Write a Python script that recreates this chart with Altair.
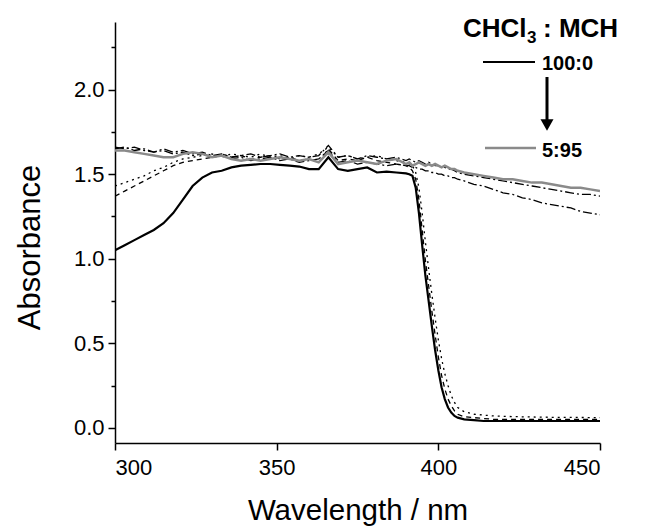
import altair as alt
import pandas as pd

wl = [300, 303, 306, 309, 312, 315, 318, 321, 324, 327, 330, 333, 336, 339, 342, 345,
      348, 351, 354, 357, 360, 363, 366, 369, 372, 375, 378, 381, 384, 387, 390,
      391, 392, 393, 394, 395, 396, 397, 398, 399, 400, 401, 402, 403, 404, 405, 406,
      408, 411, 414, 417, 420, 423, 426, 429, 432, 435, 438, 441, 444, 447, 450]

# 100:0 (solid black)
a_100_0 = [1.05, 1.08, 1.11, 1.14, 1.17, 1.21, 1.27, 1.35, 1.43, 1.48, 1.51, 1.52, 1.54, 1.55, 1.555, 1.56,
           1.56, 1.555, 1.55, 1.545, 1.53, 1.53, 1.60, 1.53, 1.52, 1.53, 1.54, 1.51, 1.515, 1.51, 1.505,
           1.50, 1.49, 1.42, 1.27, 1.08, 0.90, 0.75, 0.60, 0.46, 0.34, 0.24, 0.17, 0.12, 0.09, 0.07, 0.06,
           0.05, 0.045, 0.04, 0.04, 0.04, 0.04, 0.04, 0.04, 0.04, 0.04, 0.04, 0.04, 0.04, 0.04, 0.04]

# intermediate (short dash)
a_dash = [1.37, 1.40, 1.43, 1.46, 1.49, 1.52, 1.55, 1.57, 1.58, 1.59, 1.60, 1.62, 1.60, 1.61, 1.59, 1.60,
          1.61, 1.59, 1.60, 1.58, 1.59, 1.57, 1.65, 1.58, 1.59, 1.58, 1.60, 1.58, 1.57, 1.56, 1.55,
          1.54, 1.52, 1.47, 1.35, 1.17, 0.99, 0.84, 0.69, 0.55, 0.42, 0.31, 0.23, 0.17, 0.13, 0.10, 0.08,
          0.065, 0.06, 0.055, 0.05, 0.05, 0.05, 0.05, 0.05, 0.05, 0.05, 0.05, 0.05, 0.05, 0.05, 0.05]

# intermediate (dotted)
a_dot = [1.43, 1.45, 1.47, 1.49, 1.52, 1.54, 1.57, 1.59, 1.60, 1.61, 1.62, 1.60, 1.62, 1.61, 1.60, 1.62,
         1.60, 1.61, 1.59, 1.61, 1.60, 1.62, 1.66, 1.60, 1.61, 1.59, 1.60, 1.61, 1.59, 1.58, 1.57,
         1.56, 1.55, 1.51, 1.42, 1.27, 1.10, 0.94, 0.79, 0.65, 0.52, 0.41, 0.32, 0.25, 0.19, 0.15, 0.12,
         0.095, 0.08, 0.075, 0.07, 0.068, 0.066, 0.065, 0.064, 0.063, 0.062, 0.062, 0.061, 0.061, 0.06, 0.06]

# intermediate (dash-dot, upper)
a_dd1 = [1.66, 1.65, 1.66, 1.64, 1.63, 1.65, 1.63, 1.64, 1.62, 1.63, 1.61, 1.62, 1.60, 1.61, 1.62, 1.60,
         1.61, 1.62, 1.60, 1.61, 1.60, 1.61, 1.67, 1.60, 1.61, 1.59, 1.61, 1.60, 1.59, 1.60, 1.58,
         1.59, 1.58, 1.57, 1.58, 1.57, 1.56, 1.57, 1.56, 1.55, 1.55, 1.54, 1.54, 1.53, 1.53, 1.52, 1.51,
         1.50, 1.49, 1.48, 1.47, 1.46, 1.45, 1.44, 1.43, 1.42, 1.41, 1.40, 1.39, 1.38, 1.38, 1.37]

# intermediate (dash-dot, lower)
a_dd2 = [1.65, 1.66, 1.64, 1.65, 1.63, 1.64, 1.62, 1.63, 1.61, 1.62, 1.60, 1.61, 1.59, 1.60, 1.58, 1.59,
         1.60, 1.58, 1.59, 1.57, 1.58, 1.59, 1.64, 1.57, 1.58, 1.56, 1.57, 1.56, 1.55, 1.56, 1.55,
         1.55, 1.54, 1.54, 1.53, 1.53, 1.52, 1.52, 1.51, 1.51, 1.50, 1.50, 1.49, 1.49, 1.48, 1.48, 1.47,
         1.46, 1.44, 1.43, 1.41, 1.39, 1.38, 1.36, 1.35, 1.33, 1.32, 1.31, 1.30, 1.28, 1.27, 1.26]

# 5:95 (solid gray)
a_5_95 = [1.64, 1.64, 1.63, 1.62, 1.61, 1.60, 1.60, 1.62, 1.63, 1.62, 1.60, 1.61, 1.59, 1.58, 1.59, 1.58,
          1.59, 1.60, 1.59, 1.58, 1.59, 1.57, 1.63, 1.56, 1.57, 1.58, 1.57, 1.56, 1.58, 1.59, 1.56,
          1.57, 1.55, 1.56, 1.57, 1.56, 1.55, 1.56, 1.55, 1.56, 1.55, 1.54, 1.55, 1.54, 1.53, 1.53, 1.52,
          1.51, 1.50, 1.49, 1.48, 1.47, 1.47, 1.46, 1.45, 1.45, 1.44, 1.43, 1.42, 1.42, 1.41, 1.40]

x_ticks = [300, 350, 400, 450]
y_ticks = [0.0, 0.5, 1.0, 1.5, 2.0]
y_minor = [0.25, 0.75, 1.25, 1.75, 2.25]
legend_title_parts = ["CHCl", "3", ": MCH"]
legend_labels = ["100:0", "5:95"]

FONT = "Liberation Sans"

X = alt.X("wl:Q", scale=alt.Scale(domain=[300, 450], nice=False, zero=False),
          axis=alt.Axis(values=x_ticks, title="Wavelength / nm", format="d",
                        titlePadding=18, labelPadding=7, titleFontSize=29.5))
Y = alt.Y("a:Q", scale=alt.Scale(domain=[-0.09, 2.4], nice=False, zero=False),
          axis=alt.Axis(values=y_ticks, title="Absorbance", format=".1f",
                        titlePadding=27, titleY=225, titleFontSize=31))


def curve(vals, color, width, dash=None):
    df = pd.DataFrame({"wl": wl, "a": vals})
    kw = dict(color=color, strokeWidth=width, clip=True)
    if dash:
        kw["strokeDash"] = dash
    return alt.Chart(df).mark_line(**kw).encode(x=X, y=Y)


layers = [
    curve(a_dd2, "black", 1.3, [9, 3, 2, 3]),
    curve(a_dd1, "black", 1.3, [9, 3, 2, 3]),
    curve(a_dot, "black", 1.3, [2, 4]),
    curve(a_dash, "black", 1.3, [5, 4]),
    curve(a_5_95, "#8a8a8a", 2.5),
    curve(a_100_0, "black", 2.2),
]

main = alt.layer(*layers)

minor = alt.Chart(pd.DataFrame({"wl": wl, "a": a_100_0})).mark_line(opacity=0).encode(
    x=X,
    y=alt.Y("a:Q", scale=alt.Scale(domain=[-0.09, 2.4], nice=False, zero=False),
            axis=alt.Axis(values=y_minor, labels=False, tickSize=4, domain=False,
                          orient="left", title=None, grid=False)),
)


def txt(s, x, y, size):
    return alt.Chart(pd.DataFrame({"t": [s]})).mark_text(
        font=FONT, fontSize=size, fontWeight="bold", align="left",
        baseline="alphabetic", color="black"
    ).encode(x=alt.value(x), y=alt.value(y), text="t:N")


title_parts = [
    txt(legend_title_parts[0], 348, 15, 26),
    txt(legend_title_parts[1], 412, 21, 17),
    txt(legend_title_parts[2], 428, 15, 26),
]
lab1 = txt(legend_labels[0], 427, 48, 20)
lab2 = txt(legend_labels[1], 427, 135, 20)

one = pd.DataFrame({"t": ["x"]})
line1 = alt.Chart(one).mark_rule(color="black", strokeWidth=2).encode(
    x=alt.value(368), x2=alt.value(420), y=alt.value(40))
line2 = alt.Chart(one).mark_rule(color="#8a8a8a", strokeWidth=2.5).encode(
    x=alt.value(370), x2=alt.value(421), y=alt.value(126))
arrow = alt.Chart(one).mark_rule(color="black", strokeWidth=3).encode(
    x=alt.value(432), y=alt.value(55), y2=alt.value(100))
head = alt.Chart(one).mark_point(shape="triangle-down", filled=True, size=170, color="black", opacity=1).encode(
    x=alt.value(432), y=alt.value(103))

chart = alt.layer(main, minor, *title_parts, lab1, lab2, line1, line2, arrow, head).resolve_axis(
    y="independent"
).properties(
    width=485, height=421, autosize="none",
    padding={"left": 107, "top": 14, "right": 42, "bottom": 88},
).configure_view(stroke=None).configure_axis(
    labelFont=FONT, titleFont=FONT, labelFontSize=22, titleFontSize=28,
    titleFontWeight="normal", labelColor="black", titleColor="black",
    domainColor="black", tickColor="black", domainWidth=1.5, tickWidth=1.5,
    tickSize=7, labelPadding=4, grid=False,
)

chart.save("out.html", embed_options={"renderer": "svg", "actions": False})
